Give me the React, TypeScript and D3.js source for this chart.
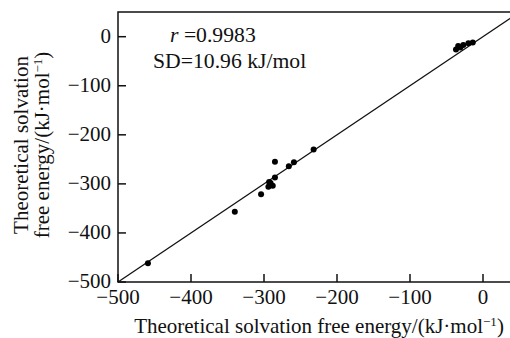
import React, { useRef, useEffect } from "react";
import * as d3 from "d3";

// experimental (x) vs theoretical (y) solvation free energy, kJ/mol
const expValues = [-459, -340, -304, -294, -288, -291, -293, -285, -285, -266, -259, -232, -37, -34, -27, -20, -14, -31];
const theoValues = [-462, -357, -321, -306, -304, -298, -296, -287, -255, -264, -256, -230, -26, -19, -17, -13.5, -12, -22];
const xTicks = [-500, -400, -300, -200, -100, 0];
const yTicks = [-500, -400, -300, -200, -100, 0];

const App = () => {
  const ref = useRef<SVGSVGElement>(null);

  useEffect(() => {
    const width = 510;
    const height = 338;
    const left = 118;
    const right = 512;
    const top = 12;
    const bottom = 282;
    const font = "'Liberation Serif', 'Times New Roman', serif";
    const fs = "21px";

    const svg = d3.select(ref.current);
    svg.selectAll("*").remove();
    svg.attr("width", width).attr("height", height);

    const x = d3.scaleLinear().domain([-500, 0]).range([left, 483]);
    const y = d3.scaleLinear().domain([-500, 0]).range([bottom, 36.7]);

    // frame
    svg
      .append("rect")
      .attr("x", left)
      .attr("y", top)
      .attr("width", right - left)
      .attr("height", bottom - top)
      .attr("fill", "none")
      .attr("stroke", "#111")
      .attr("stroke-width", 1.5);

    const fmt = (t: number) => (t < 0 ? "\u2212" + Math.abs(t) : String(t));

    // x ticks (inward)
    const xg = svg.append("g");
    xTicks.forEach((t) => {
      xg.append("line")
        .attr("x1", x(t))
        .attr("x2", x(t))
        .attr("y1", bottom)
        .attr("y2", bottom - 8)
        .attr("stroke", "#111")
        .attr("stroke-width", 1.5);
      xg.append("text")
        .attr("x", x(t))
        .attr("y", 304)
        .attr("text-anchor", "middle")
        .style("font-family", font)
        .style("font-size", fs)
        .attr("fill", "#111")
        .text(fmt(t));
    });

    // y ticks (inward)
    const yg = svg.append("g");
    yTicks.forEach((t) => {
      yg.append("line")
        .attr("x1", left)
        .attr("x2", left + 8)
        .attr("y1", y(t))
        .attr("y2", y(t))
        .attr("stroke", "#111")
        .attr("stroke-width", 1.5);
      yg.append("text")
        .attr("x", left - 7)
        .attr("y", y(t) + 6)
        .attr("text-anchor", "end")
        .style("font-family", font)
        .style("font-size", fs)
        .attr("fill", "#111")
        .text(fmt(t));
    });

    // y = x reference line
    const lineEnd = x.invert(right);
    svg
      .append("line")
      .attr("x1", x(-500))
      .attr("y1", y(-500))
      .attr("x2", x(lineEnd))
      .attr("y2", y(lineEnd))
      .attr("stroke", "#111")
      .attr("stroke-width", 1.3);

    // points
    svg
      .append("g")
      .selectAll("circle")
      .data(expValues.map((v, i) => [v, theoValues[i]]))
      .enter()
      .append("circle")
      .attr("cx", (d) => x(d[0]))
      .attr("cy", (d) => y(d[1]))
      .attr("r", 3)
      .attr("fill", "#000");

    // annotation
    const ann = svg
      .append("g")
      .style("font-family", font)
      .style("font-size", "21.7px")
      .attr("fill", "#111");
    const t1 = ann.append("text").attr("x", 170).attr("y", 42);
    t1.append("tspan").style("font-style", "italic").text("r");
    t1.append("tspan").text(" =0.9983");
    ann.append("text").attr("x", 153).attr("y", 68).text("SD=10.96 kJ/mol");

    // axis titles
    const xt = svg
      .append("text")
      .attr("x", 319)
      .attr("y", 333)
      .attr("text-anchor", "middle")
      .style("font-family", font)
      .style("font-size", fs)
      .attr("fill", "#111");
    xt.append("tspan").text("Theoretical solvation free energy/(kJ\u00b7mol");
    xt.append("tspan").attr("dy", -7).style("font-size", "13px").text("\u22121");
    xt.append("tspan").attr("dy", 7).text(")");

    const yt = svg
      .append("g")
      .attr("transform", "translate(0,145) rotate(-90)")
      .style("font-family", font)
      .style("font-size", fs)
      .attr("fill", "#111");
    yt.append("text").attr("x", 0).attr("y", 28).attr("text-anchor", "middle").text("Theoretical solvation");
    const y2 = yt.append("text").attr("x", 0).attr("y", 49).attr("text-anchor", "middle");
    y2.append("tspan").text("free energy/(kJ\u00b7mol");
    y2.append("tspan").attr("dy", -7).style("font-size", "13px").text("\u22121");
    y2.append("tspan").attr("dy", 7).text(")");
  }, []);

  return (
    <svg
      ref={ref}
      style={{ position: "absolute", left: 0, top: 0, background: "#fff" }}
    ></svg>
  );
};

export default App;
